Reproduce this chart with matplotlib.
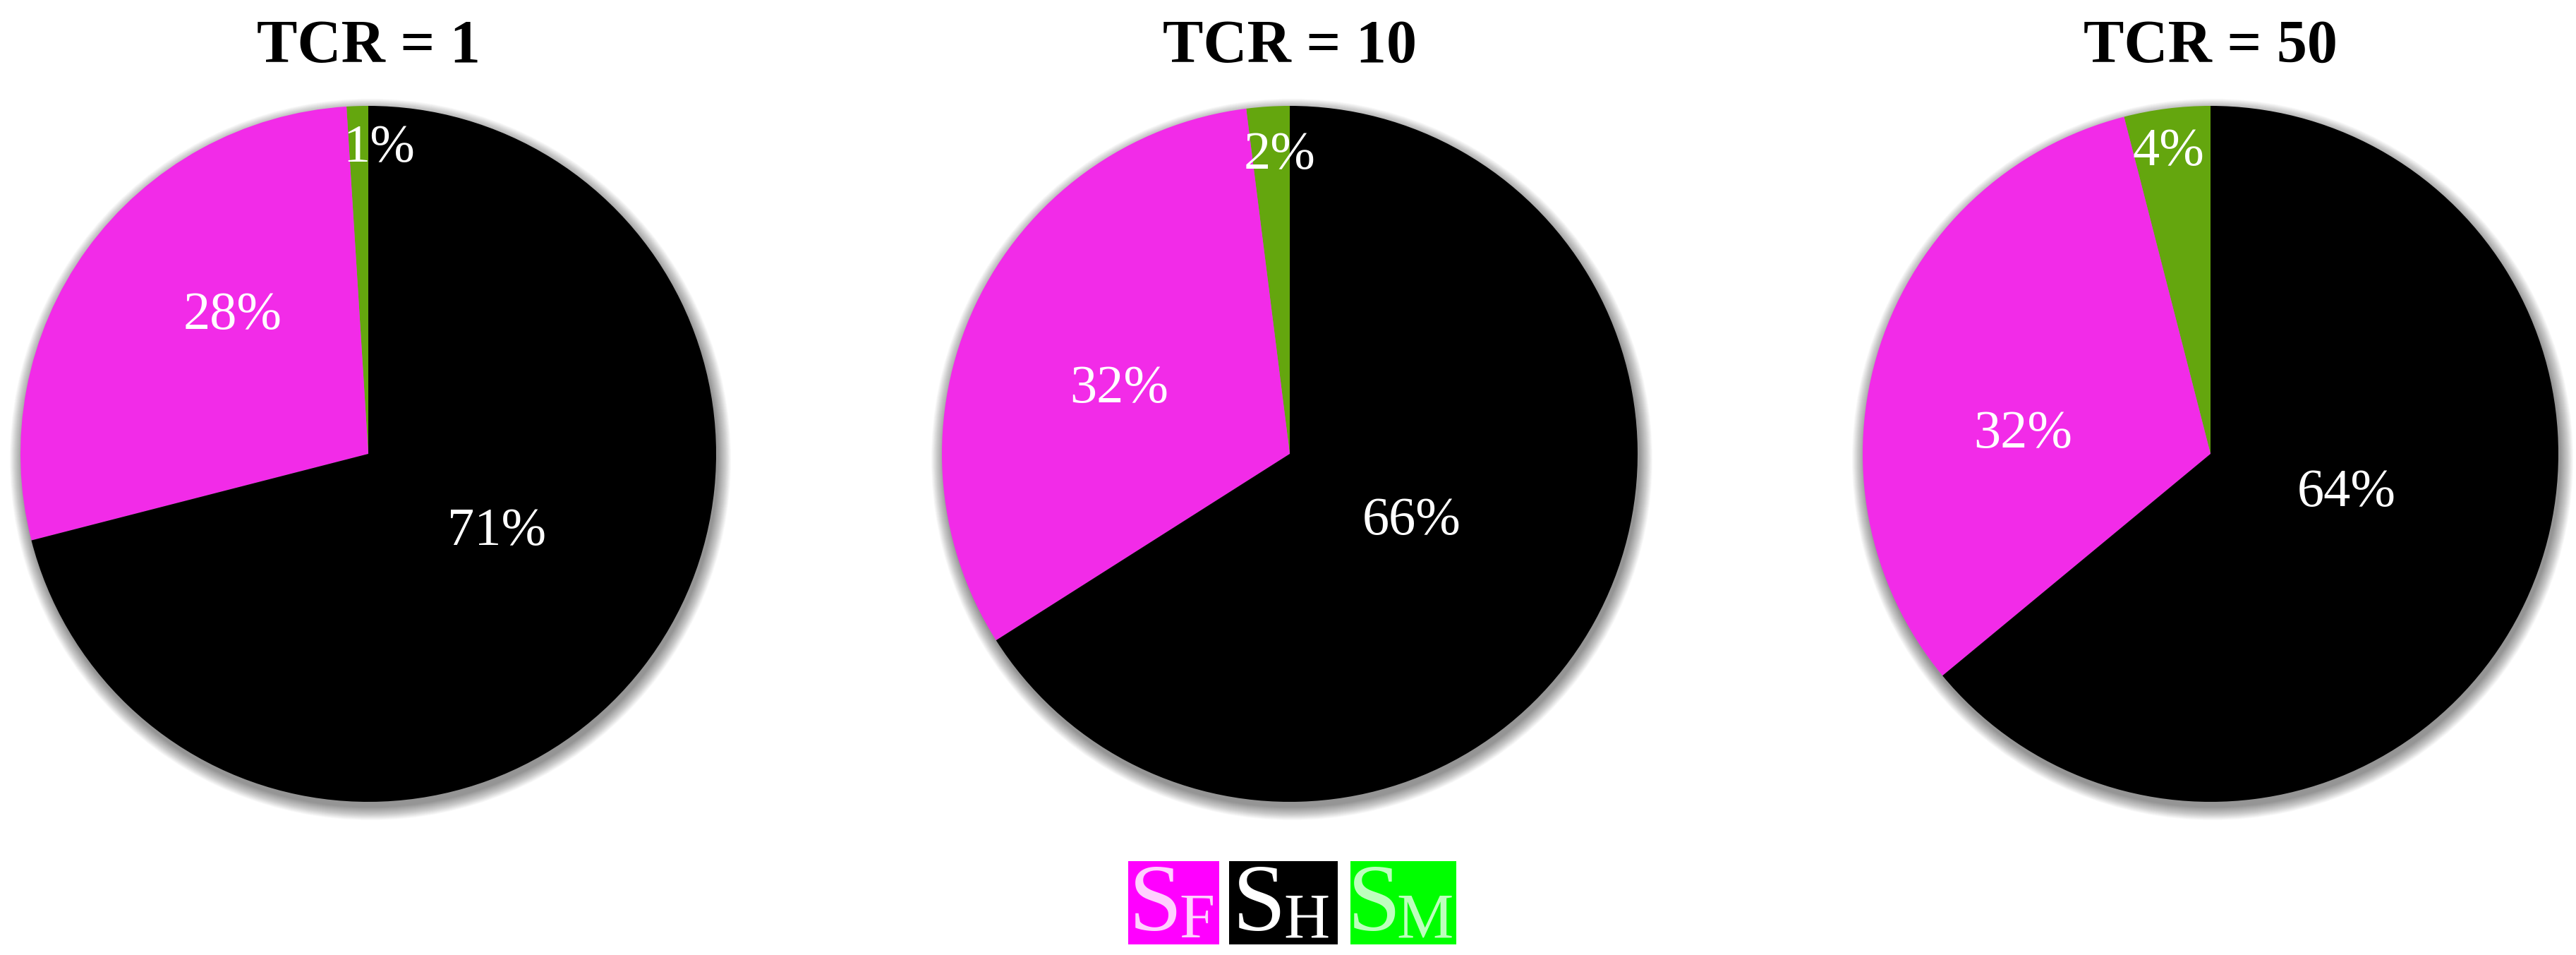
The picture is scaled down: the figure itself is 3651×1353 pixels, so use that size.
import matplotlib
matplotlib.use("Agg")
import matplotlib.pyplot as plt
from matplotlib.patches import Circle, Rectangle

# ---------------- data ----------------
titles = ["TCR = 1", "TCR = 10", "TCR = 50"]
categories = ["SM", "SF", "SH"]          # order counter-clockwise from 12 o'clock
values_tcr1 = [1, 28, 71]
values_tcr10 = [2, 32, 66]
values_tcr50 = [4, 32, 64]
all_values = [values_tcr1, values_tcr10, values_tcr50]

pie_colors = ["#64A60E", "#F22BE8", "#000000"]
legend_labels = [("S", "F"), ("S", "H"), ("S", "M")]
legend_colors = ["#FF00FF", "#000000", "#00FF00"]
legend_text_alpha = [0.82, 1.0, 0.75]

# ---------------- layout (pixels) ----------------
W, H = 3651, 1353
DPI = 100
centers_px = [(522, 643), (1828, 643), (3133, 643)]
R_PX = 493
LIM = 1.12
# label positions (text centre) in pie-radius units, order matches categories
label_pos = [
    [(0.03, 0.89), (-0.39, 0.41), (0.37, -0.21)],
    [(-0.03, 0.87), (-0.49, 0.20), (0.35, -0.18)],
    [(-0.12, 0.88), (-0.54, 0.07), (0.39, -0.10)],
]

serif = ["Liberation Serif", "DejaVu Serif"]
plt.rcParams["font.family"] = serif

fig = plt.figure(figsize=(W / DPI, H / DPI), dpi=DPI)
fig.patch.set_facecolor("white")

for i, (vals, title) in enumerate(zip(all_values, titles)):
    cx, cy = centers_px[i]
    half = R_PX * LIM
    ax = fig.add_axes([(cx - half) / W, (H - cy - half) / H, 2 * half / W, 2 * half / H])
    # soft drop shadow
    n = 24
    for k in range(n):
        rr = 1.0 + 0.0016 * k
        ax.add_patch(Circle((0.006, -0.016), rr, facecolor="#000000",
                            edgecolor="none", alpha=0.018, zorder=0))
    wedges, _ = ax.pie(vals, colors=pie_colors, startangle=90, counterclock=True,
                       radius=1.0, wedgeprops=dict(linewidth=0))
    for w in wedges:
        w.set_zorder(2)
    for j, v in enumerate(vals):
        x, y = label_pos[i][j]
        ax.text(x, y - 0.051, f"{v}%", ha="center", va="baseline",
                color="white", fontsize=55, zorder=5)
    ax.set_xlim(-LIM, LIM)
    ax.set_ylim(-LIM, LIM)
    ax.set_aspect("equal")
    ax.set_axis_off()
    fig.text(cx / W, (H - 88) / H, title, ha="center", va="baseline",
             fontsize=62, fontweight="bold", color="black")

# ---------------- legend ----------------
boxes = [(1599, 1728), (1742, 1896), (1914, 2064)]
s_centers = [1638, 1785, 1948]
sub_centers = [1696, 1852, 2020]
y_top, y_bot = 1220, 1338
for k, ((x0, x1), (main, sub), col) in enumerate(zip(boxes, legend_labels, legend_colors)):
    fig.patches.append(Rectangle((x0 / W, (H - y_bot) / H), (x1 - x0) / W, (y_bot - y_top) / H,
                                 transform=fig.transFigure, facecolor=col, edgecolor="none"))
    fig.text(s_centers[k] / W, (H - 1318) / H, main, ha="center", va="baseline",
             fontsize=98, color="white", alpha=legend_text_alpha[k])
    fig.text(sub_centers[k] / W, (H - 1329) / H, sub, ha="center", va="baseline",
             fontsize=65, color="white", alpha=legend_text_alpha[k])

fig.savefig("out.png", dpi=DPI, facecolor="white")
